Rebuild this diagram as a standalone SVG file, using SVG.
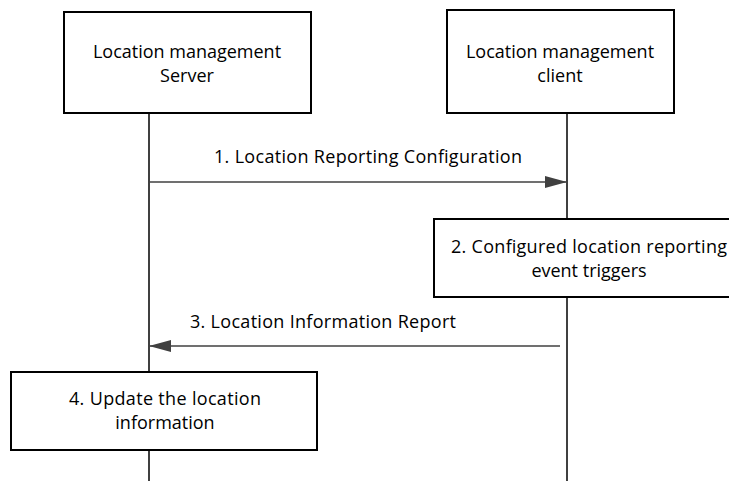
<svg xmlns="http://www.w3.org/2000/svg" width="729" height="481" viewBox="0 0 729 481">
<style>
.box{fill:#fff;stroke:#000;stroke-width:2}
.life{stroke:#000;stroke-width:1.5;fill:none}
.msg{stroke:#404040;stroke-width:1.5;fill:none}
text{font-family:"Open Sans","Liberation Sans",sans-serif;font-size:18px;fill:#000;text-anchor:middle}
</style>
<defs>
<marker id="ah" viewBox="0 0 10 10" refX="10" refY="5" markerWidth="22" markerHeight="12" markerUnits="userSpaceOnUse" orient="auto" preserveAspectRatio="none">
<path d="M0,0 L10,5 L0,10 Z" fill="#404040"/>
</marker>
</defs>
<g id="lifelines">
<line class="life" x1="149" y1="113" x2="149" y2="481"/>
<line class="life" x1="567" y1="113" x2="567" y2="481"/>
</g>
<g id="server">
<rect class="box" x="64" y="12" width="247" height="101"/>
<text x="187" y="58">Location management</text>
<text x="187" y="82">Server</text>
</g>
<g id="client">
<rect class="box" x="447" y="10" width="227" height="103"/>
<text x="560" y="58">Location management</text>
<text x="560" y="82">client</text>
</g>
<g id="step2">
<rect class="box" x="434" y="219" width="305" height="78"/>
<text x="589" y="253" textLength="276" lengthAdjust="spacing">2. Configured location reporting</text>
<text x="589" y="277">event triggers</text>
</g>
<g id="step4">
<rect class="box" x="11" y="372" width="306" height="78"/>
<text x="165" y="405" textLength="192" lengthAdjust="spacing">4. Update the location</text>
<text x="165" y="429">information</text>
</g>
<g id="connectors">
<line class="msg" x1="149" y1="182" x2="567" y2="182" marker-end="url(#ah)"/>
<text x="368" y="163" textLength="308" lengthAdjust="spacing">1. Location Reporting Configuration</text>
<line class="msg" x1="560" y1="346" x2="149" y2="346" marker-end="url(#ah)"/>
<text x="323" y="328" textLength="266" lengthAdjust="spacing">3. Location Information Report</text>
</g>
</svg>
